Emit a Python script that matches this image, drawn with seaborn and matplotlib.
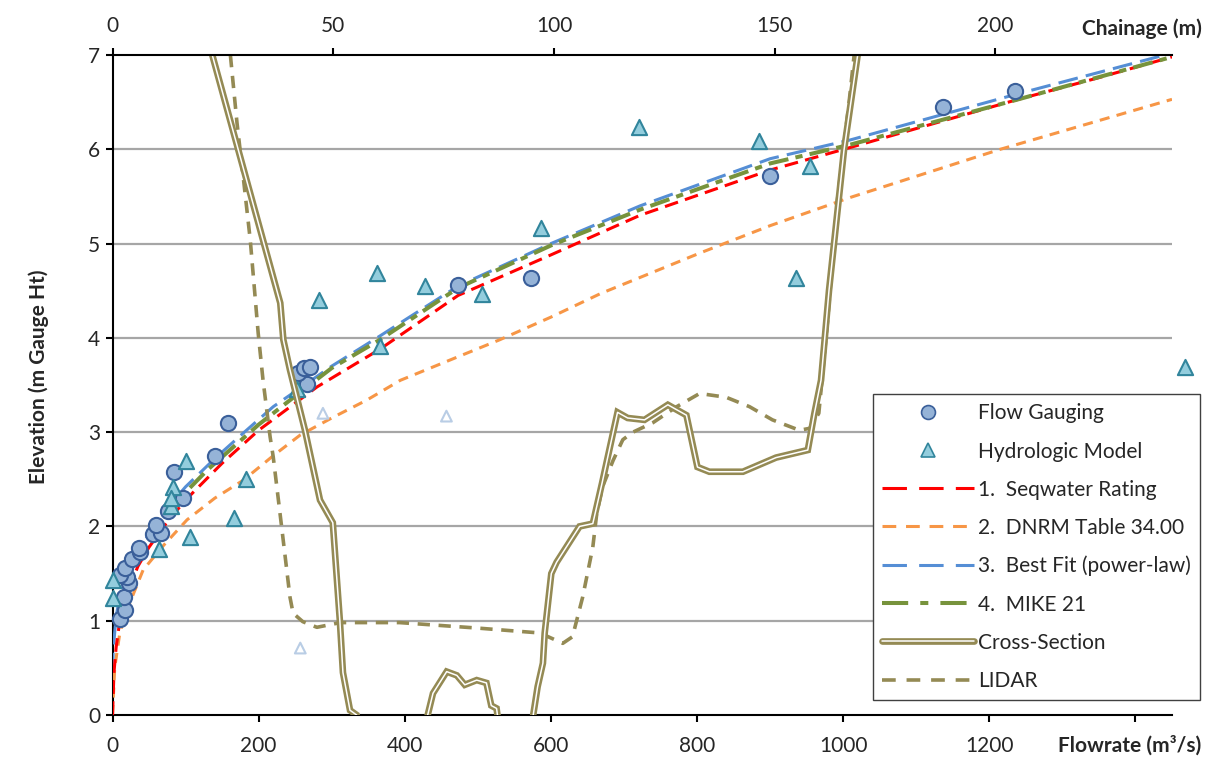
import numpy as np
import pandas as pd
import matplotlib
matplotlib.use("Agg")
import matplotlib.pyplot as plt
import seaborn as sns
from matplotlib.lines import Line2D

# ---------------- data ----------------
gauge_flow = [10, 17, 16, 22, 20, 10, 17, 26, 38, 36, 55, 66, 60, 76, 97, 84, 140, 158,
              266, 254, 262, 270, 473, 573, 900, 1137, 1235]
gauge_elev = [1.02, 1.11, 1.25, 1.40, 1.46, 1.48, 1.56, 1.65, 1.73, 1.77, 1.92, 1.93, 2.01,
              2.16, 2.30, 2.58, 2.75, 3.10, 3.51, 3.63, 3.68, 3.69, 4.56, 4.63, 5.72, 6.45, 6.62]

hydro_flow = [0, 1, 64, 106, 80, 83, 80, 100, 166, 183, 252, 283, 362, 366, 428, 506, 587,
              721, 885, 954, 936, 1468]
hydro_elev = [1.43, 1.24, 1.76, 1.89, 2.22, 2.42, 2.30, 2.69, 2.09, 2.50, 3.46, 4.40, 4.69,
              3.91, 4.55, 4.47, 5.17, 6.24, 6.09, 5.82, 4.63, 3.69]

faint_flow = [288, 457, 257]
faint_elev = [3.20, 3.17, 0.71]

seq_flow = [0, 2, 5, 10, 20, 35, 50, 75, 100, 150, 200, 280, 366, 473, 600, 722, 900,
            1010, 1100, 1235, 1350, 1450]
seq_elev = [0.0, 0.45, 0.72, 1.00, 1.30, 1.58, 1.78, 2.05, 2.28, 2.67, 3.02, 3.48, 3.88,
            4.45, 4.88, 5.30, 5.78, 6.02, 6.22, 6.52, 6.76, 6.98]

dnrm_flow = [0, 3, 10, 20, 42, 70, 102, 140, 179, 220, 257, 300, 348, 394, 473, 530, 600,
             668, 804, 900, 1010, 1215, 1450]
dnrm_elev = [0.0, 0.50, 0.87, 1.12, 1.54, 1.80, 2.07, 2.30, 2.49, 2.75, 2.97, 3.15, 3.34,
             3.55, 3.80, 3.98, 4.22, 4.47, 4.90, 5.19, 5.49, 6.00, 6.53]

fit_flow = [0, 1, 5, 10, 20, 40, 70, 100, 140, 179, 220, 300, 366, 473, 600, 722, 900,
            1010, 1235, 1440]
fit_elev = [0.45, 0.70, 1.05, 1.25, 1.50, 1.80, 2.15, 2.42, 2.72, 2.99, 3.27, 3.70, 4.02,
            4.55, 5.00, 5.40, 5.90, 6.10, 6.58, 7.00]

mike_flow = [106, 130, 165, 200, 243, 300, 366, 473, 600, 722, 900, 1010, 1235, 1450]
mike_elev = [2.41, 2.60, 2.84, 3.08, 3.34, 3.68, 3.98, 4.53, 4.98, 5.36, 5.85, 6.05, 6.52, 6.98]

xs_chain = [22.6, 38.0, 38.7, 40.2, 43.6, 47.0, 49.9, 51.5, 52.2, 53.8, 55.3, 56.5, 70.5,
            71.4, 72.6, 75.7, 78.0, 79.8, 82.5, 84.7, 85.8, 87.0, 87.2, 88.5, 94.5, 95.3,
            96.3, 97.5, 97.9, 99.4, 100.6, 105.8, 108.8, 110.9, 114.4, 116.7, 120.5, 125.8,
            130.0, 132.5, 135.2, 142.8, 150.3, 157.5, 159.0, 160.5, 162.3, 165.7, 168.8]
xs_elev = [7.0, 4.37, 3.98, 3.66, 3.02, 2.28, 2.04, 1.00, 0.45, 0.05, 0.0, -0.2, -0.2,
           0.0, 0.23, 0.46, 0.42, 0.32, 0.37, 0.34, 0.10, 0.07, 0.0, -0.2, -0.2, 0.0,
           0.30, 0.55, 0.87, 1.50, 1.62, 2.00, 2.03, 2.46, 3.21, 3.15, 3.13, 3.29,
           3.18, 2.63, 2.58, 2.58, 2.73, 2.81, 3.20, 3.55, 4.50, 5.99, 7.0]

lidar_chain = [26.7, 28.2, 29.7, 31.2, 33.0, 34.1, 35.7, 36.4, 38.4, 40.2, 40.9, 43.1, 46.3,
               51.6, 65.0, 83.2, 96.8, 102.0, 104.2, 106.5, 108.8, 109.7, 111.0, 113.4,
               115.6, 117.9, 122.4, 127.8, 133.0, 139.0, 144.3, 149.5, 155.6, 157.9, 160.0,
               162.0, 164.2, 166.9, 168.0]
lidar_elev = [7.0, 6.28, 5.67, 5.04, 4.05, 3.55, 2.95, 2.74, 1.96, 1.25, 1.08, 0.99, 0.93,
              0.98, 0.98, 0.92, 0.87, 0.76, 0.83, 1.25, 1.78, 2.14, 2.42, 2.70, 2.92, 3.00,
              3.10, 3.27, 3.41, 3.37, 3.27, 3.13, 3.02, 3.04, 3.20, 4.19, 5.46, 6.52, 7.0]

flow_ticks = [0, 200, 400, 600, 800, 1000, 1200, 1400]
flow_tick_labels = ["0", "200", "400", "600", "800", "1000", "1200", ""]
chain_ticks = [0, 50, 100, 150, 200]
elev_ticks = [0, 1, 2, 3, 4, 5, 6, 7]
grid_levels = [1, 2, 3, 4, 5, 6]

# ---------------- style ----------------
sns.set_theme(style="white")
plt.rcParams["font.family"] = ["Lato", "DejaVu Sans"]
plt.rcParams["axes.edgecolor"] = "black"

C_RED = "#ff0000"
C_ORANGE = "#f79646"
C_BLUE = "#558ed5"
C_GREEN = "#77933c"
C_OLIVE = "#948a54"
C_CIRCLE = "#95b3d7"
C_CIRCLE_E = "#3a5f9a"
C_TRI = "#93cddd"
C_TRI_E = "#31859c"
C_FAINT = "#b9cde5"

fig = plt.figure(figsize=(12.15, 7.62), dpi=100)
ax = fig.add_axes([0.0926, 0.0617, 0.872, 0.8661])
ax2 = ax.twiny()

# ---------------- rating curves (flow axis) ----------------
def curve(x, y, color, lw, dash):
    sns.lineplot(x=x, y=y, ax=ax, color=color, lw=lw, sort=False, estimator=None,
                 linestyle=(0, dash), dash_capstyle="butt", zorder=3)

curve(dnrm_flow, dnrm_elev, C_ORANGE, 2.2, (3.3, 2.4))
curve(fit_flow, fit_elev, C_BLUE, 2.2, (6.5, 2.7))
curve(seq_flow, seq_elev, C_RED, 2.2, (4.5, 2.4))
curve(mike_flow, mike_elev, C_GREEN, 2.9, (5.0, 1.8, 1.8, 1.8))

sns.scatterplot(x=faint_flow, y=faint_elev, ax=ax, marker="^", s=60, facecolor="none",
                edgecolor=C_FAINT, linewidth=1.5, zorder=4)
sns.scatterplot(x=gauge_flow, y=gauge_elev, ax=ax, marker="o", s=120, color=C_CIRCLE,
                edgecolor=C_CIRCLE_E, linewidth=1.5, zorder=5, clip_on=False)
sns.scatterplot(x=hydro_flow, y=hydro_elev, ax=ax, marker="^", s=120, color=C_TRI,
                edgecolor=C_TRI_E, linewidth=1.5, zorder=5, clip_on=False)

# ---------------- cross-section (chainage axis) ----------------
for yv in grid_levels:
    ax.axhline(yv, color="#a6a6a6", lw=1.6, zorder=0)

sns.lineplot(x=xs_chain, y=xs_elev, ax=ax2, color=C_OLIVE, lw=4.8, sort=False,
             estimator=None, solid_joinstyle="miter", zorder=2)
sns.lineplot(x=xs_chain, y=xs_elev, ax=ax2, color="white", lw=1.1, sort=False,
             estimator=None, zorder=2.1)
sns.lineplot(x=lidar_chain, y=lidar_elev, ax=ax2, color=C_OLIVE, lw=2.6, sort=False,
             estimator=None, linestyle=(0, (3.4, 2.4)), dash_capstyle="butt", zorder=2)

# ---------------- axes ----------------
ax.set_xlim(0, 1450)
ax.set_ylim(0, 7)
ax2.set_xlim(0, 240)
ax.set_xticks(flow_ticks)
ax.set_xticklabels(flow_tick_labels)
ax.set_yticks(elev_ticks)
ax2.set_xticks(chain_ticks)
ax.set_xlabel("")
ax.set_ylabel("")
ax2.set_xlabel("")

for sp in ["top", "right"]:
    ax.spines[sp].set_visible(False)
for sp in ["left", "bottom"]:
    ax.spines[sp].set_linewidth(1.5)
    ax.spines[sp].set_color("black")
for sp in ["left", "bottom", "right"]:
    ax2.spines[sp].set_visible(False)
ax2.spines["top"].set_linewidth(1.5)
ax2.spines["top"].set_color("black")

ax.tick_params(axis="x", direction="out", length=5, width=1.5, pad=10,
               labelsize=15, colors="black", bottom=True)
ax.tick_params(axis="y", direction="out", length=5, width=1.5, pad=4,
               labelsize=15, colors="black", left=True)
ax2.tick_params(axis="x", direction="out", length=5, width=1.5, pad=9,
                labelsize=15, colors="black", top=True)
for t in ax.get_xticklabels() + ax.get_yticklabels() + ax2.get_xticklabels():
    t.set_color("#262626")

fig.text(0.032, 0.505, "Elevation (m Gauge Ht)", rotation=90, ha="center", va="center",
         fontsize=15, fontweight="bold")
fig.text(0.989, 0.962, "Chainage (m)", ha="right", va="center", fontsize=15,
         fontweight="bold")
fig.text(0.989, 0.022, "Flowrate (m\u00b3/s)", ha="right", va="center", fontsize=15,
         fontweight="bold")

# ---------------- legend ----------------
h_gauge = Line2D([], [], marker="o", ls="none", markersize=10, markerfacecolor=C_CIRCLE,
                 markeredgecolor=C_CIRCLE_E, markeredgewidth=1.2)
h_hydro = Line2D([], [], marker="^", ls="none", markersize=10, markerfacecolor=C_TRI,
                 markeredgecolor=C_TRI_E, markeredgewidth=1.2)
h_seq = Line2D([], [], color=C_RED, lw=2.2, ls=(0, (8, 4)))
h_dnrm = Line2D([], [], color=C_ORANGE, lw=2.2, ls=(0, (4.5, 3.2)))
h_fit = Line2D([], [], color=C_BLUE, lw=2.2, ls=(0, (8, 4)))
h_mike = Line2D([], [], color=C_GREEN, lw=2.9, ls=(0, (6.5, 3.0, 2.0, 3.0)))
h_xs = (Line2D([], [], color=C_OLIVE, lw=4.8), Line2D([], [], color="white", lw=1.1))
h_lidar = Line2D([], [], color=C_OLIVE, lw=2.6, ls=(0, (3.8, 3.0)))

leg = ax2.legend([h_gauge, h_hydro, h_seq, h_dnrm, h_fit, h_mike, h_xs, h_lidar],
                 ["Flow Gauging", "Hydrologic Model", "1.  Seqwater Rating",
                  "2.  DNRM Table 34.00", "3.  Best Fit (power-law)", "4.  MIKE 21",
                  "Cross-Section", "LIDAR"],
                 loc="upper left", bbox_to_anchor=(873 / 1215, 1 - 394 / 762),
                 bbox_transform=fig.transFigure, fontsize=15, frameon=True,
                 fancybox=False, edgecolor="#404040", framealpha=1, handlelength=4.4,
                 handletextpad=0.2, labelspacing=0.87, borderpad=0.45, borderaxespad=0)
leg.get_frame().set_linewidth(1.0)
for t in leg.get_texts():
    t.set_color("#262626")
leg.set_zorder(10)

fig.savefig("out.png", dpi=100)
